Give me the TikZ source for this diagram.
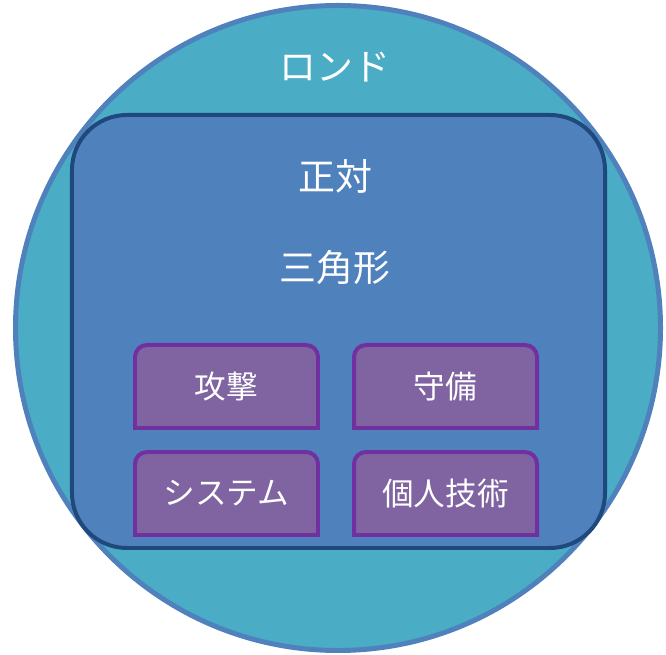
\documentclass[tikz,border=0pt]{standalone}
\usepackage{fontspec}
\newfontfamily\jpfont{Noto Sans CJK JP}
\usetikzlibrary{positioning,backgrounds}
\definecolor{rondoTeal}{HTML}{4BACC6}
\definecolor{rondoBlue}{HTML}{4F81BD}
\definecolor{rondoNavy}{HTML}{1F497D}
\definecolor{rondoPurple}{HTML}{8064A2}
\definecolor{rondoViolet}{HTML}{7030A0}
\begin{document}
\begin{tikzpicture}[
x=0.03cm, y=0.03cm,
node distance=7.2mm and 10.8mm,
every node/.style={font=\jpfont, text=white},
title/.style={font=\jpfont\fontsize{31.5}{36}\selectfont},
cell/.style={minimum width=5.49cm, minimum height=2.49cm, inner sep=0pt, outer sep=0pt, font=\jpfont\fontsize{27}{32}\selectfont},
cellline/.style={draw=rondoViolet, line width=3.4pt, fill=rondoPurple}
]
\useasboundingbox (0,0) rectangle (666,655);

% Outer circle and inner frame (background)
\begin{pgfonlayer}{background}
\node[circle, draw=rondoBlue, fill=rondoTeal, line width=4.25pt, inner sep=0pt, minimum size=19.35cm] (rondo) at (338,327) {};
\node[draw=rondoNavy, fill=rondoBlue, line width=3.4pt, rounded corners=1.65cm, minimum width=15.99cm, minimum height=12.99cm] (frame) at (338.5,323.5) {};
\end{pgfonlayer}

% Titles
\node[title] (rondoT) at (335,588) {ロンド};
\node[title] (facing) at (335,479) {正対};
\node[title] (triangle) at (335,387) {三角形};

% Four cells
\node[cell] (attack) at (226.5,268.5) {攻撃};
\node[cell, right=of attack] (defence) {守備};
\node[cell, below=of attack] (system) {システム};
\node[cell, below=of defence] (skill) {個人技術};

\begin{pgfonlayer}{background}
\foreach \n in {attack,defence,system,skill}
  \draw[cellline] (\n.south west) -- (\n.west) [rounded corners=3.6mm] -- (\n.north west) -- (\n.north east) -- (\n.east) [sharp corners] -- (\n.south east) -- cycle;
\end{pgfonlayer}

\end{tikzpicture}
\end{document}
